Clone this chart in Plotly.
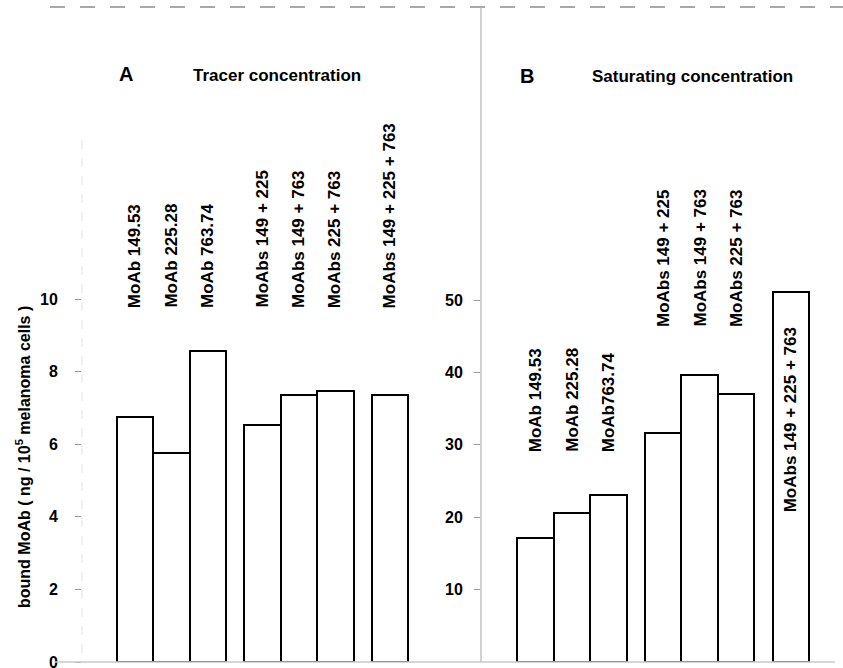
import plotly.graph_objects as go

# ---------------- data ----------------
labels_a = ["MoAb 149.53", "MoAb 225.28", "MoAb 763.74",
            "MoAbs 149 + 225", "MoAbs 149 + 763", "MoAbs 225 + 763",
            "MoAbs 149 + 225 + 763"]
values_a = [6.75, 5.76, 8.57, 6.53, 7.35, 7.47, 7.35]

labels_b = ["MoAb 149.53", "MoAb 225.28", "MoAb763.74",
            "MoAbs 149 + 225", "MoAbs 149 + 763", "MoAbs 225 + 763",
            "MoAbs 149 + 225 + 763"]
values_b = [17.1, 20.6, 23.1, 31.6, 39.6, 37.0, 51.1]

ticks_a = [0, 2, 4, 6, 8, 10]
ticks_b = [10, 20, 30, 40, 50]

title_a = "Tracer concentration"
title_b = "Saturating concentration"
y_title = "bound MoAb ( ng / 10<sup>5</sup> melanoma cells )"

# ---------------- layout helpers ----------------
W, H = 843, 668
FONT = "Liberation Sans, Arial, Helvetica, sans-serif"
pos = [0, 1, 2, 3.5, 4.5, 5.5, 7.0]   # bar slots: three groups + single bar

def px(x):
    return x / W

def py(y):
    return (H - y) / H

fig = go.Figure()

bar_style = dict(marker=dict(color="white", line=dict(color="black", width=2)),
                 width=1.0, showlegend=False, hoverinfo="skip")
fig.add_trace(go.Bar(x=pos, y=values_a, xaxis="x", yaxis="y", **bar_style))
fig.add_trace(go.Bar(x=pos, y=values_b, xaxis="x2", yaxis="y2", **bar_style))

ydom = [py(662), py(7)]
tickfont = dict(family=FONT, size=16, color="black", weight="bold")
common_y = dict(showgrid=False, zeroline=False, showline=False, automargin=False,
                ticks="outside", ticklen=6, tickcolor="#999", tickwidth=1,
                tickfont=tickfont, domain=ydom, ticklabeloverflow="allow")
common_x = dict(showgrid=False, zeroline=False, showline=False, automargin=False,
                showticklabels=False, ticks="")

fig.update_layout(
    width=W, height=H,
    margin=dict(l=0, r=0, t=0, b=0, autoexpand=False),
    paper_bgcolor="white", plot_bgcolor="white",
    bargap=0,
    xaxis=dict(domain=[px(82), px(470)], range=[-1.46, 9.2], **common_x),
    xaxis2=dict(domain=[px(481), 1.0], range=[-1.486, 8.43], **common_x),
    yaxis=dict(anchor="x", range=[0, 655 / 36.3], tickvals=ticks_a,
               ticklabelstandoff=14, **common_y),
    yaxis2=dict(anchor="x2", range=[0, 655 / 7.24], tickvals=ticks_b,
                ticklabelstandoff=8, **common_y),
)

shapes = []
# top border line
shapes.append(dict(type="line", xref="paper", yref="paper", x0=px(50), x1=1.0,
                   y0=py(7), y1=py(7), line=dict(color="#555", width=1.2, dash="longdash")))
# panel B axis / separator
shapes.append(dict(type="line", xref="paper", yref="paper", x0=px(481), x1=px(481),
                   y0=py(7), y1=py(662), line=dict(color="#b5b5b5", width=1.2)))
# panel A faint axis
shapes.append(dict(type="line", xref="paper", yref="paper", x0=px(82), x1=px(82),
                   y0=py(140), y1=py(662), line=dict(color="#e2e2e2", width=1, dash="dash")))
# bottom baseline
shapes.append(dict(type="line", xref="paper", yref="paper", x0=px(55), x1=px(835),
                   y0=py(662), y1=py(662), line=dict(color="#c8c8c8", width=1.5)))
fig.update_layout(shapes=shapes)

ann = []
lab_font = dict(family=FONT, size=17, color="black", weight="bold")
# panel titles
ann.append(dict(text="A", x=px(117), y=py(74), xref="paper", yref="paper",
                xanchor="left", yanchor="middle", showarrow=False,
                font=dict(family=FONT, size=20, color="black", weight="bold")))
ann.append(dict(text=title_a, x=px(191), y=py(75), xref="paper", yref="paper",
                xanchor="left", yanchor="middle", showarrow=False, font=lab_font))
ann.append(dict(text="B", x=px(518), y=py(76), xref="paper", yref="paper",
                xanchor="left", yanchor="middle", showarrow=False,
                font=dict(family=FONT, size=20, color="black", weight="bold")))
ann.append(dict(text=title_b, x=px(590), y=py(76), xref="paper", yref="paper",
                xanchor="left", yanchor="middle", showarrow=False, font=lab_font))

# rotated bar labels, panel A (all start at the same height)
for p, t in zip(pos, labels_a):
    ann.append(dict(text=t, x=p, y=py(309), xref="x", yref="paper",
                    xanchor="center", yanchor="bottom", textangle=-90,
                    showarrow=False, font=lab_font, borderpad=0))
# panel B: group bottoms differ
bottoms_b = [453, 453, 453, 328, 328, 328, 513]
for p, t, b in zip(pos, labels_b, bottoms_b):
    ann.append(dict(text=t, x=p, y=py(b), xref="x2", yref="paper",
                    xanchor="center", yanchor="bottom", textangle=-90,
                    showarrow=False, font=lab_font, borderpad=0))

# y-axis title
ann.append(dict(text=y_title, x=px(23), y=py(457), xref="paper", yref="paper",
                xanchor="center", yanchor="middle", textangle=-90, showarrow=False,
                font=dict(family=FONT, size=16, color="black", weight="bold")))
fig.update_layout(annotations=ann)

fig.write_html("out.html", config={"displayModeBar": False},
               post_script="document.body.style.margin='0';document.body.style.padding='0';")
